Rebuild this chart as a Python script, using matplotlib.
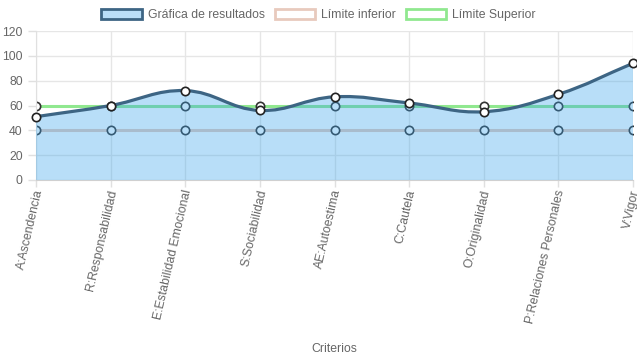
import numpy as np
import matplotlib
matplotlib.use("Agg")
import matplotlib.pyplot as plt
import matplotlib.transforms as mtransforms
from matplotlib.path import Path
from matplotlib.patches import PathPatch, Patch

categories = ["A:Ascendencia", "R:Responsabilidad", "E:Estabilidad Emocional",
              "S:Sociabilidad", "AE:Autoestima", "C:Cautela", "O:Originalidad",
              "P:Relaciones Personales", "V:Vigor"]
resultados = [51, 60, 72, 56, 67, 62, 55, 69, 94]
limite_inferior = [40, 40, 40, 40, 40, 40, 40, 40, 40]
limite_superior = [60, 60, 60, 60, 60, 60, 60, 60, 60]
yticks = [0, 20, 40, 60, 80, 100, 120]

plt.rcParams['font.family'] = ['Liberation Sans', 'DejaVu Sans']
TXT = '#666666'
FILL = '#b9def8'
LINE = '#3d6584'
LOW = '#e8cabd'
UP = '#90e88f'

fig = plt.figure(figsize=(6.37, 3.59), dpi=100)
ax = fig.add_axes([36/637, 1-180/359, (633-36)/637, (180-31)/359])
x = np.arange(len(categories))
ax.set_xlim(0, len(categories)-1)
ax.set_ylim(0, 120)

# grid
ax.set_yticks(yticks)
ax.set_xticks(x)
ax.grid(True, color='#e6e6e6', linewidth=1)
ax.set_axisbelow(True)
for s in ['top', 'right']:
    ax.spines[s].set_visible(False)
ax.spines['left'].set_color('#e0e0e0')
ax.spines['bottom'].set_color('#d0d0d0')
ax.tick_params(axis='both', colors='#e0e0e0', labelcolor=TXT, labelsize=8.8, length=6, width=1)
ax.tick_params(axis='x', pad=2, length=5)
ax.set_yticklabels([str(v) for v in yticks])
ax.set_xticklabels(categories, rotation=77, ha='right', va='center', rotation_mode='anchor')
shift = mtransforms.ScaledTranslation(3/100, 0, fig.dpi_scale_trans)
for lbl in ax.get_xticklabels():
    lbl.set_transform(lbl.get_transform() + shift)
ax.set_xlabel('Criterios', color=TXT, fontsize=8.8, labelpad=13)

# limit lines (behind fill)
ax.plot(x, limite_inferior, color=LOW, lw=2.2, zorder=2)
ax.plot(x, limite_inferior, 'o', ms=6, mfc='white', mec='#333333', mew=1.2, zorder=2.1)
ax.plot(x, limite_superior, color=UP, lw=2.2, zorder=2)
ax.plot(x, limite_superior, 'o', ms=6, mfc='white', mec='#333333', mew=1.2, zorder=2.1)

# Chart.js style bezier curve (tension 0.4) computed in pixel space
fig.canvas.draw()
tr = ax.transData
pts = tr.transform(np.column_stack([x, resultados]))
n = len(pts)
tension = 0.4
verts = [pts[0]]
codes = [Path.MOVETO]
cp_prev = []
cp_next = []
for i in range(n):
    prev = pts[i-1] if i > 0 else pts[i]
    cur = pts[i]
    nxt = pts[i+1] if i < n-1 else pts[i]
    d01 = np.hypot(*(cur-prev))
    d12 = np.hypot(*(nxt-cur))
    tot = d01 + d12
    s01 = d01/tot if tot else 0
    s12 = d12/tot if tot else 0
    fa = tension*s01
    fb = tension*s12
    cp_prev.append(cur - fa*(nxt-prev))
    cp_next.append(cur + fb*(nxt-prev))
for i in range(1, n):
    verts += [cp_next[i-1], cp_prev[i], pts[i]]
    codes += [Path.CURVE4]*3
inv = tr.inverted()
vdata = inv.transform(np.array(verts))
curve = Path(vdata, codes)
# fill
fverts = list(vdata) + [[x[-1], 0], [x[0], 0], vdata[0]]
fcodes = codes + [Path.LINETO, Path.LINETO, Path.CLOSEPOLY]
ax.add_patch(PathPatch(Path(fverts, fcodes), facecolor=(54/255, 162/255, 235/255, 0.35),
                       edgecolor='none', zorder=3))
ax.add_patch(PathPatch(curve, facecolor='none', edgecolor=LINE, lw=2.3, zorder=4))
ax.plot(x, resultados, 'o', ms=6, mfc='white', mec='#222222', mew=1.2, zorder=5, clip_on=False)

handles = [Patch(facecolor=FILL, edgecolor=LINE, linewidth=2),
           Patch(facecolor='white', edgecolor=LOW, linewidth=2),
           Patch(facecolor='white', edgecolor=UP, linewidth=2)]
labels = ['Gráfica de resultados', 'Límite inferior', 'Límite Superior']
leg = fig.legend(handles, labels, loc='upper center', bbox_to_anchor=(0.5, 1.0), ncol=3,
                 frameon=False, fontsize=8.8, handlelength=3.3, handleheight=0.9,
                 handletextpad=0.5, columnspacing=0.8, borderaxespad=0.3)
for t in leg.get_texts():
    t.set_color(TXT)

fig.savefig('out.png', dpi=100)
